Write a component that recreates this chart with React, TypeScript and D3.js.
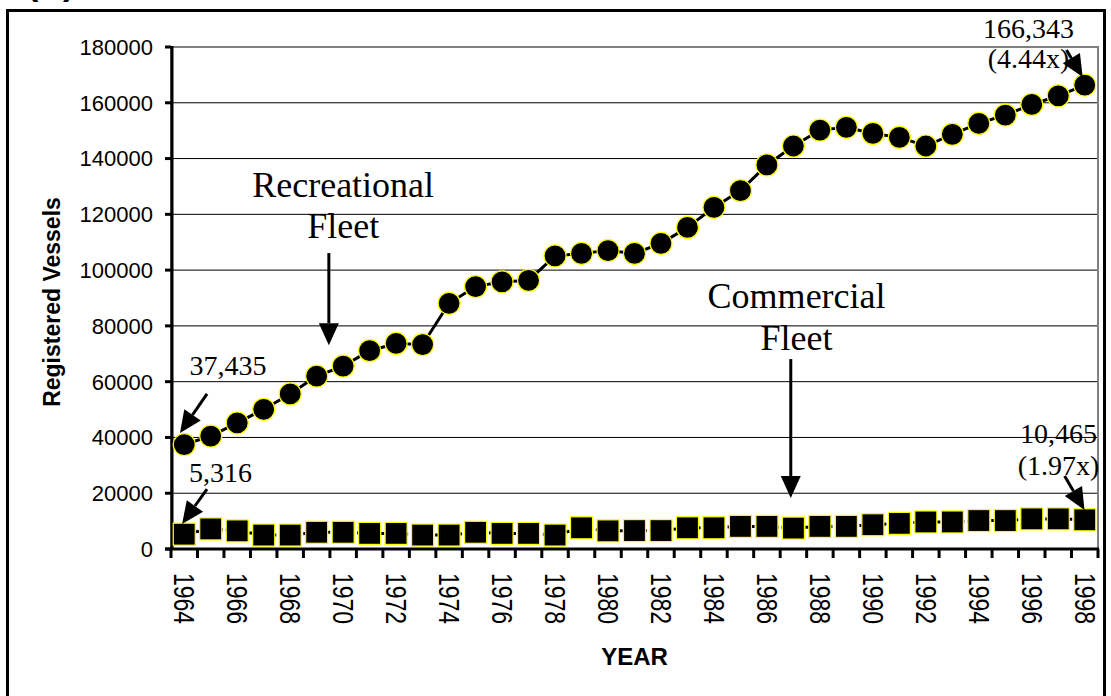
import React from 'react';
import * as d3 from 'd3';

const years = [
  1964, 1965, 1966, 1967, 1968, 1969, 1970, 1971, 1972, 1973, 1974, 1975,
  1976, 1977, 1978, 1979, 1980, 1981, 1982, 1983, 1984, 1985, 1986, 1987,
  1988, 1989, 1990, 1991, 1992, 1993, 1994, 1995, 1996, 1997, 1998,
];

const recreational = [
  37435, 40500, 45200, 50100, 55600, 62000, 65600, 71100, 73700, 73300, 88100, 94100,
  95800, 96300, 105100, 106000, 107000, 106000, 109600, 115300, 122500, 128500, 137700, 144500,
  150200, 151200, 149000, 147600, 144500, 148700, 152600, 155600, 159400, 162500, 166343,
];

const commercial = [
  5316, 7200, 6500, 5000, 5000, 6000, 6000, 5600, 5600, 5000, 5000, 6000,
  5600, 5600, 5000, 7600, 6500, 6600, 6600, 7600, 7600, 8100, 8100, 7500,
  8100, 8100, 8700, 9200, 9700, 9700, 10200, 10200, 10800, 10800, 10465,
];

const yTicks = [0, 20000, 40000, 60000, 80000, 100000, 120000, 140000, 160000, 180000];
const xLabelYears = years.filter((_, i) => i % 2 === 0);

// annotation text + arrows, positioned in data space (fractional year, value)
const labels = [
  { year: 1970, value: 126200, lines: ['Recreational', 'Fleet'], size: 36, lh: 41 },
  { year: 1987.12, value: 86400, lines: ['Commercial', 'Fleet'], size: 36, lh: 42 },
  { year: 1965.65, value: 62400, lines: ['37,435'], size: 28, lh: 30 },
  { year: 1965.37, value: 24000, lines: ['5,316'], size: 28, lh: 30 },
  { year: 1995.88, value: 183200, lines: ['166,343', '(4.44x)'], size: 28, lh: 30 },
  { year: 1997.01, value: 38000, lines: ['10,465', '(1.97x)'], size: 28, lh: 32 },
];

const arrows = [
  { from: [1969.46, 106100], to: [1969.46, 73100] },
  { from: [1986.9, 68100], to: [1986.9, 18300] },
  { from: [1964.86, 55600], to: [1963.84, 41600] },
  { from: [1964.86, 21500], to: [1963.92, 9000] },
  { from: [1997.31, 178900], to: [1997.92, 169200] },
  { from: [1997.24, 26200], to: [1997.99, 14000] },
];

const W = 1111, H = 696;
const PLOT = { l: 171, r: 1098, t: 47, b: 549 };

export default function App() {
  const x = d3.scaleBand<number>().domain(years).range([PLOT.l, PLOT.r]);
  const bw = x.bandwidth();
  const cx = (yr: number) => (x(yr) ?? 0) + bw / 2;
  const xYear = d3.scaleLinear().domain([1964, 1998]).range([cx(1964), cx(1998)]);
  const y = d3.scaleLinear().domain([0, 180000]).range([PLOT.b, PLOT.t]);

  const line = d3.line<number>().x((_, i) => cx(years[i])).y(d => y(d));

  const arrowShape = (a: typeof arrows[0], i: number) => {
    const x1 = xYear(a.from[0]), y1 = y(a.from[1]);
    const x2 = xYear(a.to[0]), y2 = y(a.to[1]);
    const ang = Math.atan2(y2 - y1, x2 - x1);
    const len = 22, hw = 10;
    const bx = x2 - len * Math.cos(ang), by = y2 - len * Math.sin(ang);
    const px = -Math.sin(ang) * hw, py = Math.cos(ang) * hw;
    return (
      <g key={i}>
        <line x1={x1} y1={y1} x2={bx} y2={by} stroke="#000" strokeWidth={3} />
        <polygon points={`${x2},${y2} ${bx + px},${by + py} ${bx - px},${by - py}`} fill="#000" />
      </g>
    );
  };

  return (
    <svg width={W} height={H} style={{ position: 'absolute', left: 0, top: 0, background: '#fff' }}>
      <rect x={0} y={0} width={W} height={H} fill="#fff" />
      {/* panel letter, mostly cut off at the top */}
      <text x={27} y={-5} fontFamily="Arial, 'Liberation Sans', sans-serif" fontWeight="bold" fontSize={34}>(A)</text>
      {/* outer frame */}
      <rect x={7.5} y={10.5} width={1097} height={700} fill="none" stroke="#000" strokeWidth={3} />

      {/* plot area */}
      <rect x={PLOT.l} y={PLOT.t} width={PLOT.r - PLOT.l} height={PLOT.b - PLOT.t} fill="#fff" stroke="#808080" strokeWidth={2} />
      {yTicks.slice(1, -1).map(t => (
        <line key={t} x1={PLOT.l} x2={PLOT.r - 1} y1={y(t)} y2={y(t)} stroke="#000" strokeWidth={1} />
      ))}

      {/* y axis */}
      <line x1={PLOT.l + 1} x2={PLOT.l + 1} y1={PLOT.t - 1} y2={PLOT.b + 1} stroke="#000" strokeWidth={3} />
      {yTicks.map(t => (
        <g key={t}>
          <line x1={PLOT.l - 6} x2={PLOT.l} y1={y(t)} y2={y(t)} stroke="#000" strokeWidth={3} />
          <text x={153} y={y(t)} dy="0.36em" textAnchor="end" fontFamily="Arial, 'Liberation Sans', sans-serif" fontSize={22}>{t}</text>
        </g>
      ))}
      <text transform={`translate(60,${(PLOT.t + PLOT.b) / 2 + 4}) rotate(-90)`} textAnchor="middle"
        fontFamily="Arial, 'Liberation Sans', sans-serif" fontWeight="bold" fontSize={23}>Registered Vessels</text>

      {/* x axis */}
      <line x1={PLOT.l - 6} x2={PLOT.r + 1} y1={PLOT.b} y2={PLOT.b} stroke="#000" strokeWidth={3} />
      {[...years.map(yr => x(yr) ?? 0), PLOT.r].map((px, i) => (
        <line key={i} x1={px} x2={px} y1={PLOT.b} y2={PLOT.b + 9} stroke="#000" strokeWidth={3} />
      ))}
      {xLabelYears.map(yr => (
        <text key={yr} transform={`translate(${cx(yr)},573) rotate(90) scale(1,1.25)`}
          dominantBaseline="central" fontFamily="Arial, 'Liberation Sans', sans-serif" fontSize={23}>{yr}</text>
      ))}
      <text x={(PLOT.l + PLOT.r) / 2} y={665} textAnchor="middle"
        fontFamily="Arial, 'Liberation Sans', sans-serif" fontWeight="bold" fontSize={24}>YEAR</text>

      {/* commercial fleet */}
      <path d={line(commercial) ?? ''} fill="none" stroke="#000" strokeWidth={3} strokeDasharray="3,3" />
      {commercial.map((v, i) => (
        <rect key={i} x={cx(years[i]) - 11} y={y(v) - 11} width={22} height={22} fill="#000" stroke="#ffff00" strokeWidth={1.2} />
      ))}

      {/* recreational fleet */}
      <path d={line(recreational) ?? ''} fill="none" stroke="#000" strokeWidth={3} />
      {recreational.map((v, i) => (
        <circle key={i} cx={cx(years[i])} cy={y(v)} r={11} fill="#000" stroke="#ffff00" strokeWidth={1.2} />
      ))}

      {/* annotations */}
      {labels.map((l, i) => (
        <text key={i} textAnchor="middle" fontFamily="'Times New Roman', 'Liberation Serif', serif" fontSize={l.size}>
          {l.lines.map((s, j) => (
            <tspan key={j} x={xYear(l.year)} y={y(l.value) + j * l.lh}>{s}</tspan>
          ))}
        </text>
      ))}
      {arrows.map(arrowShape)}
    </svg>
  );
}
